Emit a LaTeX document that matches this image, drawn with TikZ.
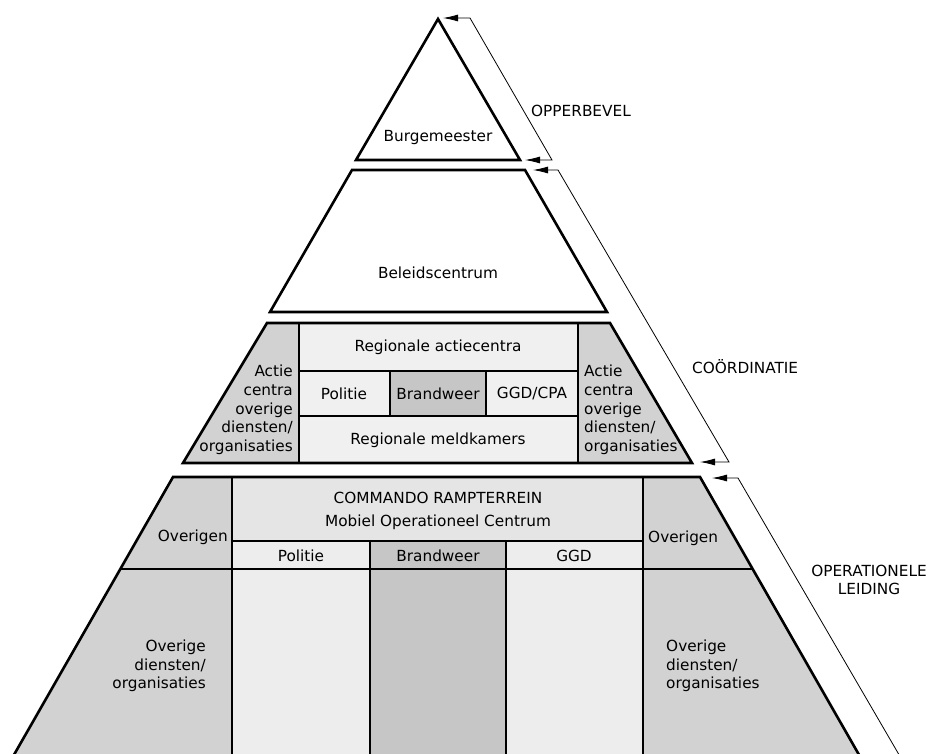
\documentclass[tikz,border=0pt]{standalone}
\usepackage{fontspec}
\setmainfont{DejaVu Sans}
\usetikzlibrary{arrows.meta, positioning}
\begin{document}
\begin{tikzpicture}[x=1pt, y=-1pt, >={Latex[length=15pt, width=7pt]},
            outline/.style={line width=2.6pt, line join=miter},
            divider/.style={line width=1.5pt},
            bracket/.style={line width=0.8pt},
            txt/.style={font=\fontsize{15.3}{18.75}\selectfont, inner sep=0pt}]

            \useasboundingbox (0,0) rectangle (931,753);

            \coordinate (apex) at (438,19);
            \coordinate (bgL) at (356,160);
            \coordinate (bgR) at (520,160);
            \coordinate (bcTL) at (352,170);
            \coordinate (bcTR) at (525,170);
            \coordinate (bcBL) at (270,312);
            \coordinate (bcBR) at (607,312);
            \coordinate (coTL) at (267,323);
            \coordinate (coTR) at (610,323);
            \coordinate (coBL) at (183,463);
            \coordinate (coBR) at (692,463);
            \coordinate (opTL) at (173,477);
            \coordinate (opTR) at (700,477);
            \coordinate (opBL) at (11,760);
            \coordinate (opBR) at (862,760);

            \fill[gray!35] (coTL) -- (299,323) -- (299,463) -- (coBL) -- cycle;
            \fill[gray!35] (578,323) -- (coTR) -- (coBR) -- (578,463) -- cycle;
            \fill[gray!12] (299,323) rectangle (578,463);
            \fill[gray!45] (390,371) rectangle (486,416);

            \fill[gray!35] (opTL) -- (232,477) -- (232,760) -- (opBL) -- cycle;
            \fill[gray!35] (643,477) -- (opTR) -- (opBR) -- (643,760) -- cycle;
            \fill[gray!20] (232,477) rectangle (643,541);
            \fill[gray!14] (232,541) rectangle (643,760);
            \fill[gray!45] (370,541) rectangle (506,760);

            \draw[divider] (299,323) -- (299,463);
            \draw[divider] (578,323) -- (578,463);
            \draw[divider] (299,371) -- (578,371);
            \draw[divider] (299,416) -- (578,416);
            \draw[divider] (390,371) -- (390,416);
            \draw[divider] (486,371) -- (486,416);

            \draw[divider] (232,477) -- (232,760);
            \draw[divider] (643,477) -- (643,760);
            \draw[divider] (232,541) -- (643,541);
            \draw[divider] (120,569) -- (753,569);
            \draw[divider] (370,541) -- (370,760);
            \draw[divider] (506,541) -- (506,760);

            \draw[outline] (apex) -- (bgR) -- (bgL) -- cycle;
            \draw[outline] (bcTL) -- (bcTR) -- (bcBR) -- (bcBL) -- cycle;
            \draw[outline] (coTL) -- (coTR) -- (coBR) -- (coBL) -- cycle;
            \draw[outline] (opBL) -- (opTL) -- (opTR) -- (opBR);

            \node[txt] (burg) at (438,138) {Burgemeester};
            \node[txt] (beleid) at (438,273) {Beleidscentrum};
            \node[txt] (rac) at (438,347) {Regionale actiecentra};
            \node[txt] (coPol) at (344,394) {Politie};
            \node[txt] (coBrw) at (438,394) {Brandweer};
            \node[txt] (coGgd) at (532,394) {GGD/CPA};
            \node[txt] (rmk) at (438,440) {Regionale meldkamers};
            \node[txt, anchor=east, align=right] (coLeft) at (293,410) {Actie\\centra\\overige\\diensten/\\organisaties};
            \node[txt, anchor=west, align=left] (coRight) at (584,410) {Actie\\centra\\overige\\diensten/\\organisaties};

            \node[txt] (cmd) at (438,498) {COMMANDO RAMPTERREIN};
            \node[txt] (moc) at (438,522) {Mobiel Operationeel Centrum};
            \node[txt] (opPol) at (301,556) {Politie};
            \node[txt] (opBrw) at (438,556) {Brandweer};
            \node[txt] (opGgd) at (574,556) {GGD};
            \node[txt, anchor=east] (ovLeft) at (228,537) {Overigen};
            \node[txt, anchor=west] (ovRight) at (648,538) {Overigen};
            \node[txt, anchor=east, align=right] (odLeft) at (206,666) {Overige\\diensten/\\organisaties};
            \node[txt, anchor=west, align=left] (odRight) at (666,666) {Overige\\diensten/\\organisaties};

            \node[txt, anchor=west] (opb) at (531,111) {OPPERBEVEL};
            \node[txt, anchor=west] (coo) at (692,367) {COÖRDINATIE};
            \node[txt, align=center] (opl) at (869,580) {OPERATIONELE\\LEIDING};

            \coordinate (opbA) at (443,18);
            \coordinate (opbTop) at (470,18);
            \coordinate (opbBot) at (552,160);
            \coordinate (opbB) at (525,160);
            \coordinate (cooA) at (533,170);
            \coordinate (cooTop) at (558,170);
            \coordinate (cooBot) at (729,462);
            \coordinate (cooB) at (700,462);
            \coordinate (oplA) at (712,478);
            \coordinate (oplTop) at (738,478);
            \coordinate (oplBot) at (905,765);

            \draw[<->, bracket] (opbA) -- (opbTop) -- (opbBot) -- (opbB);
            \draw[<->, bracket] (cooA) -- (cooTop) -- (cooBot) -- (cooB);
            \draw[<-, bracket] (oplA) -- (oplTop) -- (oplBot);
        \end{tikzpicture}
\end{document}
